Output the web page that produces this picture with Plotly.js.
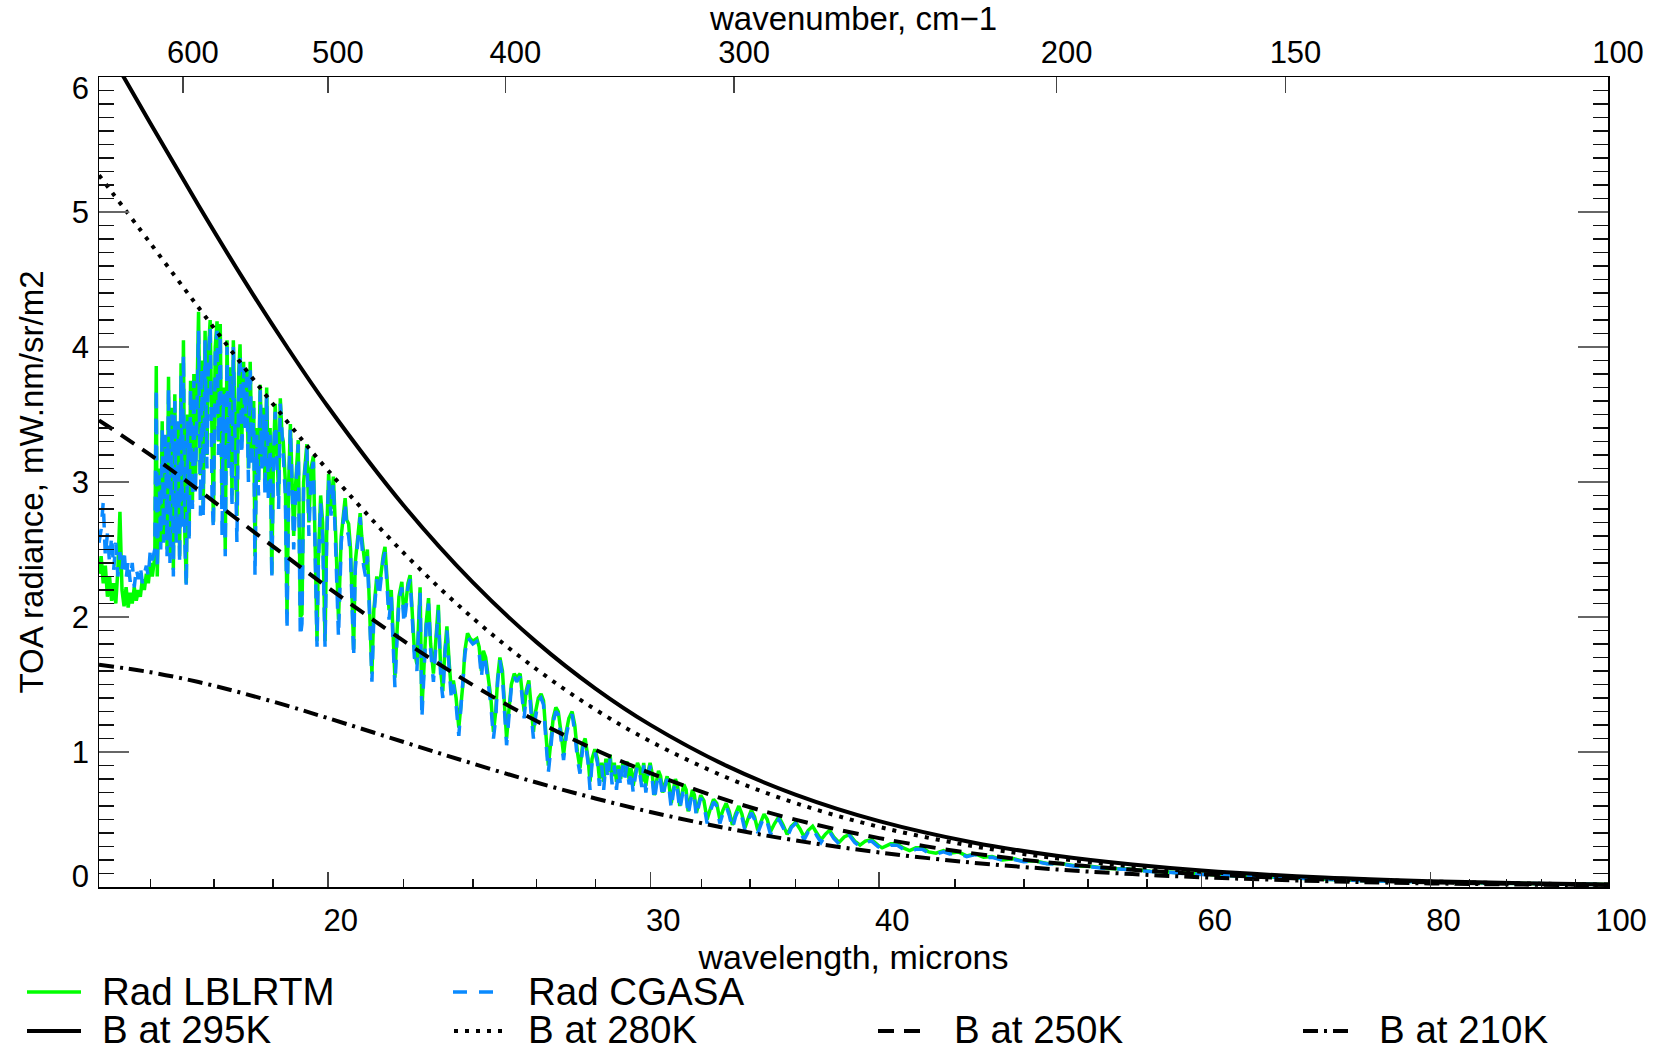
<!DOCTYPE html>
<html>
<head>
<meta charset="utf-8">
<script src="https://cdn.plot.ly/plotly-3.0.1.min.js"></script>
<style>
  html, body { margin: 0; padding: 0; background: #fff; }
  #chart { width: 1655px; height: 1051px; }
</style>
</head>
<body>
<div id="chart"></div>
<script>
// ---------------- DATA ----------------
// wavelength grid (microns) shared by the two simulated radiance spectra
const wavelengthRad = [
  15.00,15.04,15.08,15.12,15.16,15.20,15.24,15.28,15.32,15.36,
  15.40,15.44,15.48,15.52,15.56,15.60,15.64,15.68,15.72,15.76,
  15.80,15.84,15.88,15.92,15.96,16.00,16.04,16.09,16.12,16.14,
  16.18,16.21,16.24,16.27,16.31,16.34,16.37,16.40,16.44,16.47,
  16.50,16.53,16.57,16.60,16.63,16.65,16.68,16.71,16.74,16.77,
  16.80,16.83,16.87,16.90,16.93,16.97,17.00,17.04,17.07,17.10,
  17.14,17.18,17.21,17.25,17.29,17.32,17.36,17.40,17.43,17.47,
  17.51,17.54,17.58,17.62,17.65,17.69,17.73,17.76,17.80,17.84,
  17.88,17.91,17.95,17.99,18.02,18.06,18.10,18.14,18.18,18.22,
  18.25,18.29,18.33,18.37,18.41,18.45,18.48,18.52,18.56,18.60,
  18.64,18.68,18.72,18.76,18.80,18.84,18.88,18.91,18.96,19.00,
  19.04,19.08,19.12,19.16,19.21,19.27,19.32,19.36,19.40,19.48,
  19.53,19.58,19.64,19.69,19.73,19.76,19.82,19.87,19.93,19.97,
  20.02,20.08,20.14,20.20,20.27,20.34,20.39,20.44,20.48,20.53,
  20.58,20.66,20.70,20.76,20.83,20.87,20.92,20.97,21.02,21.08,
  21.14,21.19,21.27,21.33,21.39,21.44,21.49,21.54,21.60,21.66,
  21.72,21.76,21.82,21.87,21.95,22.01,22.06,22.12,22.18,22.24,
  22.30,22.37,22.42,22.46,22.51,22.57,22.63,22.70,22.76,22.84,
  22.91,22.98,23.05,23.11,23.17,23.23,23.30,23.36,23.42,23.50,
  23.58,23.64,23.70,23.76,23.84,23.92,24.00,24.12,24.19,24.26,
  24.32,24.39,24.47,24.55,24.63,24.70,24.76,24.83,24.91,24.98,
  25.04,25.11,25.19,25.28,25.36,25.47,25.53,25.60,25.66,25.75,
  25.82,25.90,25.97,26.06,26.15,26.23,26.32,26.39,26.46,26.55,
  26.64,26.72,26.81,26.90,26.99,27.08,27.19,27.28,27.37,27.46,
  27.55,27.64,27.74,27.81,27.88,27.98,28.07,28.14,28.22,28.29,
  28.37,28.44,28.52,28.59,28.67,28.75,28.82,28.90,28.98,29.05,
  29.13,29.21,29.28,29.36,29.44,29.52,29.60,29.68,29.75,29.83,
  29.91,29.99,30.07,30.15,30.23,30.31,30.39,30.47,30.55,30.64,
  30.72,30.80,30.88,30.96,31.04,31.13,31.21,31.29,31.38,31.46,
  31.54,31.63,31.71,31.79,31.88,31.96,32.09,32.22,32.35,32.48,
  32.61,32.74,32.87,33.00,33.13,33.26,33.39,33.53,33.66,33.79,
  33.93,34.06,34.20,34.34,34.47,34.61,34.75,34.89,35.07,35.26,
  35.45,35.63,35.82,36.01,36.21,36.40,36.59,36.79,36.98,37.18,
  37.38,37.58,37.78,38.03,38.28,38.54,38.79,39.05,39.31,39.62,
  39.94,40.15,40.58,40.91,41.23,41.56,41.89,42.23,42.57,42.96,
  43.37,43.71,44.18,44.65,45.13,45.61,46.10,46.71,47.34,47.97,
  48.61,49.39,50.25,51.26,52.29,53.34,54.77,56.25,57.76,59.31,
  60.91,62.96,65.08,67.72,70.47,73.33,76.32,79.42,82.64,86.00,
  89.49,93.13,96.91,100
];

// TOA radiance, LBLRTM (green)
const radLBLRTM = [
  2.32,2.45,2.25,2.38,2.15,2.30,2.12,2.25,2.10,2.35,
  2.78,2.20,2.08,2.22,2.07,2.18,2.10,2.22,2.12,2.20,
  2.15,2.28,2.20,2.32,2.25,2.40,2.30,2.45,3.86,2.30,
  3.10,2.55,3.45,2.60,3.30,2.50,3.78,2.45,3.55,2.35,
  3.65,2.60,3.40,2.45,3.88,2.70,4.05,2.60,2.25,3.50,
  2.60,3.75,2.85,3.80,2.95,3.70,4.26,3.05,3.90,2.80,
  4.12,3.20,3.95,4.20,3.10,2.70,4.00,4.19,3.30,4.17,
  2.85,3.70,2.50,4.05,3.20,3.85,2.90,4.05,3.40,2.75,
  3.80,4.02,3.30,3.89,3.45,3.83,3.10,3.89,3.20,3.60,
  2.45,3.40,3.00,3.72,3.15,3.55,3.00,3.70,2.95,3.40,
  2.32,3.20,3.58,3.30,2.90,3.62,3.35,3.30,3.00,2.02,
  3.00,3.43,3.10,2.60,3.00,3.31,2.00,2.02,3.00,3.28,
  2.70,3.10,3.19,2.50,1.82,2.40,2.90,2.70,1.82,2.60,
  3.06,2.80,3.04,2.60,1.98,2.60,2.75,2.88,2.72,2.69,
  2.50,1.76,2.40,2.60,2.77,2.60,2.44,2.35,2.50,2.10,
  1.58,2.05,2.30,2.20,2.35,2.45,2.52,2.30,2.05,2.20,
  1.80,1.55,1.90,2.15,2.26,2.00,2.10,2.25,2.31,2.00,
  1.75,1.65,1.95,2.22,1.31,1.70,1.95,2.14,1.80,1.58,
  1.85,2.09,1.60,1.45,1.75,1.93,1.65,1.45,1.53,1.40,
  1.18,1.35,1.50,1.75,1.88,1.84,1.82,1.84,1.78,1.60,
  1.75,1.70,1.55,1.40,1.15,1.30,1.55,1.70,1.60,1.35,
  1.10,1.30,1.50,1.58,1.55,1.58,1.45,1.30,1.45,1.53,
  1.35,1.15,1.30,1.40,1.43,1.38,1.10,0.90,1.05,1.25,
  1.33,1.30,1.15,0.98,1.15,1.25,1.30,1.20,1.00,0.88,
  1.05,1.10,0.95,0.78,0.95,1.02,0.95,0.80,0.92,0.78,
  0.95,0.85,0.98,0.82,0.92,0.78,0.90,0.80,0.92,0.85,
  0.93,0.80,0.88,0.75,0.85,0.92,0.88,0.78,0.92,0.75,
  0.85,0.92,0.84,0.68,0.78,0.86,0.82,0.70,0.76,0.82,
  0.75,0.62,0.72,0.80,0.76,0.60,0.68,0.76,0.72,0.56,
  0.64,0.72,0.68,0.55,0.62,0.68,0.64,0.50,0.58,0.65,
  0.62,0.50,0.57,0.62,0.56,0.46,0.54,0.60,0.54,0.44,
  0.51,0.57,0.52,0.42,0.48,0.54,0.50,0.41,0.47,0.52,
  0.46,0.39,0.45,0.48,0.43,0.37,0.42,0.45,0.40,0.35,
  0.39,0.42,0.37,0.33,0.37,0.39,0.34,0.31,0.34,0.35,
  0.31,0.29,0.32,0.32,0.29,0.27,0.29,0.29,0.26,0.25,
  0.27,0.25,0.26,0.23,0.245,0.22,0.225,0.20,0.21,0.19,
  0.195,0.175,0.175,0.155,0.152,0.137,0.133,0.117,0.110,0.097,
  0.090,0.082,0.073,0.064,0.056,0.049,0.043,0.038,0.034,0.030,
  0.026,0.023,0.020,0.018
];

// TOA radiance, CGASA (blue dashed)
const radCGASA = [
  2.55,2.65,2.85,2.45,2.62,2.40,2.60,2.35,2.55,2.30,
  2.48,2.35,2.50,2.28,2.42,2.26,2.40,2.22,2.36,2.28,
  2.38,2.25,2.32,2.38,2.30,2.50,2.42,2.50,3.70,2.35,
  3.05,2.50,3.40,2.55,3.35,2.45,3.70,2.40,3.50,2.30,
  3.60,2.55,3.45,2.40,3.80,2.65,3.95,2.55,2.22,3.45,
  2.55,3.70,2.80,3.75,2.90,3.65,4.12,2.75,3.85,2.73,
  4.05,3.10,3.90,4.15,2.90,2.65,3.95,4.12,3.20,4.10,
  2.60,3.65,2.45,4.00,3.10,3.80,2.80,4.00,3.30,2.55,
  3.75,3.95,3.20,3.85,3.40,3.78,3.00,3.85,3.10,3.55,
  2.30,3.35,2.90,3.68,3.10,3.50,2.90,3.65,2.85,3.35,
  2.28,3.15,3.52,3.20,2.80,3.58,3.30,3.20,2.90,1.90,
  2.95,3.40,3.00,2.50,2.95,3.28,1.85,1.95,2.95,3.25,
  2.60,3.05,3.15,2.40,1.78,2.35,2.85,2.60,1.78,2.55,
  3.02,2.75,3.00,2.50,1.85,2.55,2.70,2.85,2.65,2.60,
  2.45,1.70,2.35,2.55,2.74,2.55,2.38,2.30,2.45,2.00,
  1.52,2.00,2.28,2.15,2.32,2.42,2.48,2.25,1.98,2.15,
  1.72,1.48,1.85,2.12,2.22,1.95,2.05,2.22,2.28,1.95,
  1.70,1.60,1.90,2.18,1.25,1.65,1.92,2.10,1.75,1.52,
  1.82,2.05,1.55,1.40,1.72,1.90,1.60,1.40,1.50,1.35,
  1.12,1.30,1.48,1.72,1.85,1.82,1.80,1.82,1.74,1.55,
  1.72,1.66,1.50,1.35,1.10,1.25,1.52,1.68,1.56,1.30,
  1.05,1.25,1.48,1.56,1.52,1.56,1.40,1.25,1.42,1.50,
  1.30,1.10,1.26,1.38,1.40,1.35,1.05,0.85,1.00,1.22,
  1.30,1.28,1.10,0.94,1.12,1.22,1.28,1.15,0.95,0.84,
  1.02,1.08,0.92,0.72,0.92,1.00,0.92,0.75,0.90,0.72,
  0.92,0.80,0.95,0.76,0.90,0.72,0.88,0.75,0.90,0.80,
  0.90,0.76,0.86,0.70,0.82,0.90,0.85,0.74,0.90,0.70,
  0.82,0.90,0.80,0.64,0.75,0.84,0.78,0.66,0.74,0.80,
  0.72,0.58,0.70,0.78,0.72,0.57,0.66,0.74,0.68,0.53,
  0.62,0.70,0.65,0.52,0.60,0.66,0.61,0.47,0.56,0.63,
  0.60,0.47,0.55,0.60,0.53,0.43,0.52,0.58,0.52,0.42,
  0.49,0.55,0.50,0.40,0.46,0.52,0.48,0.39,0.45,0.50,
  0.44,0.37,0.44,0.47,0.41,0.35,0.41,0.44,0.38,0.33,
  0.38,0.41,0.36,0.32,0.36,0.38,0.33,0.30,0.33,0.34,
  0.30,0.28,0.31,0.31,0.28,0.26,0.28,0.28,0.25,0.245,
  0.26,0.245,0.25,0.225,0.24,0.215,0.22,0.198,0.205,0.187,
  0.19,0.172,0.17,0.152,0.148,0.135,0.13,0.115,0.108,0.095,
  0.089,0.081,0.072,0.063,0.055,0.048,0.042,0.037,0.033,0.029,
  0.026,0.023,0.020,0.018
];

// Black-body reference curves
const wavelengthB = [15,16,17,18,19,20,22,24,26,28,30,33,36,40,45,50,55,60,70,80,90,100];
const b295K = [6.317,5.657,5.048,4.495,4.000,3.559,2.826,2.256,1.814,1.470,1.201,0.899,0.685,0.488,0.330,0.231,0.166,0.122,0.0704,0.0433,0.0280,0.0190];
const b280K = [5.273,4.769,4.292,3.850,3.449,3.087,2.475,1.992,1.613,1.314,1.079,0.813,0.622,0.445,0.303,0.212,0.153,0.113,0.0654,0.0404,0.0262,0.0177];
const b250K = [3.457,3.201,2.940,2.686,2.445,2.219,1.823,1.496,1.230,1.016,0.844,0.645,0.499,0.362,0.249,0.176,0.128,0.0952,0.0556,0.0345,0.0225,0.0153];
const b210K = [1.646,1.591,1.518,1.433,1.343,1.251,1.074,0.914,0.774,0.656,0.556,0.436,0.345,0.256,0.180,0.130,0.0956,0.0718,0.0427,0.0268,0.0177,0.0121];

// Axis ticks and labels
const wavelengthTicks = [20, 30, 40, 60, 80, 100];
const wavelengthMinorTicks = [16, 17.333, 18.667, 22, 24, 26, 28, 32, 34, 36, 38, 44, 48, 52, 56, 64, 68, 72, 76, 84, 88, 92, 96];
const wavenumberTicks = [600, 500, 400, 300, 200, 150, 100];
const radianceTicks = [0, 1, 2, 3, 4, 5, 6];
const radianceTickLabels = ['0', '1', '2', '3', '4', '5', '6'];
const wavelengthRange = [15, 100];
const radianceRange = [0, 6];

const seriesNames = ['Rad LBLRTM', 'Rad CGASA', 'B at 295K', 'B at 280K', 'B at 250K', 'B at 210K'];

// ---------------- STYLE / LAYOUT ----------------
const W = 1655, H = 1051;
const M = { l: 99, r: 47, t: 77, b: 164 };
const FONT = '"Liberation Sans", Arial, Helvetica, sans-serif';

const styles = [
  { color: '#00ff00', width: 3.5, dash: 'solid' },
  { color: '#0a8aff', width: 3.5, dash: '14px,12px' },
  { color: '#000000', width: 4, dash: 'solid' },
  { color: '#000000', width: 4, dash: '4px,7px' },
  { color: '#000000', width: 4, dash: '16px,10px' },
  { color: '#000000', width: 4, dash: '15px,6px,3px,6px' }
];

const traces = [
  { x: wavelengthRad, y: radLBLRTM, name: seriesNames[0], type: 'scatter', mode: 'lines',
    line: styles[0], showlegend: false, hoverinfo: 'skip' },
  { x: wavelengthRad, y: radCGASA, name: seriesNames[1], type: 'scatter', mode: 'lines',
    line: styles[1], showlegend: false, hoverinfo: 'skip' }
];
[b295K, b280K, b250K, b210K].forEach((vals, i) => {
  traces.push({ x: wavelengthB, y: vals, name: seriesNames[i + 2], type: 'scatter', mode: 'lines',
    line: Object.assign({ shape: 'spline', smoothing: 1 }, styles[i + 2]), showlegend: false, hoverinfo: 'skip' });
});
// helper traces carrying the top (wavenumber) axis, the right axis and the y label axis
traces.push({ x: [50], y: [-10], xaxis: 'x2', yaxis: 'y2', type: 'scatter', mode: 'lines',
  showlegend: false, hoverinfo: 'skip', line: { width: 0 } });
traces.push({ x: [50], y: [-10], xaxis: 'x', yaxis: 'y3', type: 'scatter', mode: 'lines',
  showlegend: false, hoverinfo: 'skip', line: { width: 0 } });

// legend drawn below the plot: sample lines + labels (pixel positions)
const legendSlots = [
  { row: 0, lineX: [27, 81],    textX: 100 },
  { row: 0, lineX: [453, 494],  textX: 526 },
  { row: 1, lineX: [27, 81],    textX: 100 },
  { row: 1, lineX: [454, 507],  textX: 526 },
  { row: 1, lineX: [878, 927],  textX: 952 },
  { row: 1, lineX: [1303, 1353], textX: 1377 }
];
const legendRowY = [992, 1031];
const legendTextY = [991, 1029];
const plotW = W - M.l - M.r, plotH = H - M.t - M.b;
const px2x = px => (px - M.l) / plotW;
const px2y = py => (H - M.b - py) / plotH;

const shapes = [], annotations = [];
legendSlots.forEach((s, i) => {
  const y = legendRowY[s.row];
  shapes.push({ type: 'line', xref: 'paper', yref: 'paper',
    x0: px2x(s.lineX[0]), x1: px2x(s.lineX[1]), y0: px2y(y), y1: px2y(y),
    line: { color: styles[i].color, width: styles[i].width, dash: styles[i].dash } });
  annotations.push({ xref: 'paper', yref: 'paper', x: px2x(s.textX), y: px2y(legendTextY[s.row]),
    xanchor: 'left', yanchor: 'middle', showarrow: false, text: seriesNames[i],
    font: { family: FONT, size: 38.5, color: '#000' } });
});

const logRange = [Math.log10(wavelengthRange[0]), Math.log10(wavelengthRange[1])];
const tickFont = { family: FONT, size: 31, color: '#000' };
const titleFont = { family: FONT, size: 34, color: '#000' };

// end labels sit slightly inside the frame, as in the reference
const edgeInset = 11 / plotH * (radianceRange[1] - radianceRange[0]);
const radianceLabelPos = radianceTicks.map((v, i) =>
  i === 0 ? v + edgeInset : (i === radianceTicks.length - 1 ? v - edgeInset : v));

const yCommon = {
  range: radianceRange, tickmode: 'array', tickvals: radianceTicks,
  ticks: 'inside', ticklen: 30, tickwidth: 1.5, tickcolor: '#666',
  minor: { dtick: 0.1, tick0: 0, ticks: 'inside', ticklen: 15, tickwidth: 1.5, tickcolor: '#111', showgrid: false },
  showline: true, linecolor: '#000', linewidth: 1.5, showgrid: false, zeroline: false, fixedrange: true,
  showticklabels: false
};

const layout = {
  width: W, height: H,
  margin: M,
  paper_bgcolor: '#fff', plot_bgcolor: '#fff',
  font: { family: FONT, color: '#000' },
  showlegend: false,
  xaxis: {
    type: 'log', range: logRange,
    tickmode: 'array', tickvals: wavelengthTicks, ticktext: wavelengthTicks.map(String),
    ticks: 'inside', ticklen: 15, tickwidth: 1.5, tickcolor: '#444',
    minor: { tickmode: 'array', tickvals: wavelengthMinorTicks, ticks: 'inside', ticklen: 8, tickwidth: 1.5, tickcolor: '#111', showgrid: false },
    tickfont: tickFont, ticklabelshift: 13, ticklabelstandoff: 5,
    showline: true, linecolor: '#000', linewidth: 1.5, mirror: false,
    showgrid: false, zeroline: false, fixedrange: true,
    title: { text: 'wavelength, microns', font: titleFont, standoff: 1 }
  },
  xaxis2: {
    type: 'log', range: logRange, overlaying: 'x', anchor: 'y2', side: 'top',
    tickmode: 'array', tickvals: wavenumberTicks.map(w => 1e4 / w), ticktext: wavenumberTicks.map(String),
    ticks: 'inside', ticklen: 16, tickwidth: 1.5, tickcolor: '#444',
    tickfont: tickFont, ticklabelshift: 10, ticklabelstandoff: 0,
    showline: true, linecolor: '#000', linewidth: 1.5,
    showgrid: false, zeroline: false, fixedrange: true,
    title: { text: 'wavenumber, cm\u22121', font: { family: FONT, size: 33, color: '#000' }, standoff: 3 }
  },
  yaxis: Object.assign({}, yCommon, { side: 'left', anchor: 'x' }),
  yaxis2: Object.assign({}, yCommon, { side: 'right', overlaying: 'y', anchor: 'x2' }),
  yaxis3: {
    range: radianceRange, overlaying: 'y', side: 'left', anchor: 'x',
    tickmode: 'array', tickvals: radianceLabelPos, ticktext: radianceTickLabels,
    ticks: '', showline: false, showgrid: false, zeroline: false, fixedrange: true,
    tickfont: tickFont, ticklabelstandoff: 9,
    title: { text: 'TOA radiance, mW.nm/sr/m2', font: { family: FONT, size: 33, color: '#000' }, standoff: 18 }
  },
  shapes: shapes,
  annotations: annotations
};

Plotly.newPlot('chart', traces, layout, { displayModeBar: false, staticPlot: true });
</script>
</body>
</html>
